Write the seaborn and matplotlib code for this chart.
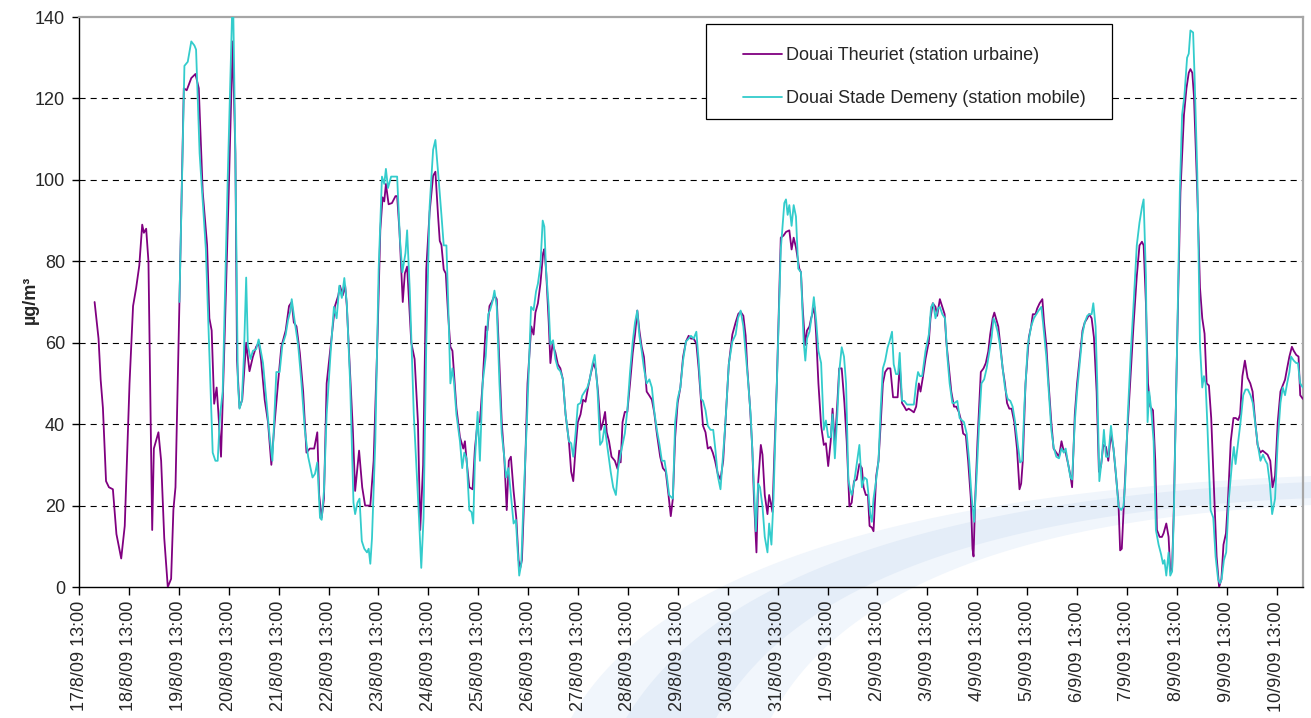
import numpy as np
import pandas as pd
import matplotlib
matplotlib.use("Agg")
import matplotlib.pyplot as plt
from matplotlib.patches import Rectangle, Polygon
from matplotlib.lines import Line2D
import seaborn as sns

# ---------------- data (hours after 17/8/09 13:00, µg/m3) ----------------
theuriet_hours = [7.5, 9.4, 10.4, 11.5, 13, 14.4, 16.3, 18, 20.3, 22, 24.3, 26, 27.5, 29, 30.4, 31.2, 32.3, 33.4, 35.2, 36,
    38.2, 39.5, 41, 42.7, 44.3, 45.4, 46.4, 48.3, 50.4, 51.8, 54, 56, 57.6, 59.5, 61.6, 62.7, 63.8, 65, 66.2, 67,
    68.3, 69.9, 72, 73.9, 75.2, 76, 77.2, 78.5, 80.4, 82, 83.6, 85.2, 86.5, 87.6, 89.3, 90.9, 92.5, 94.1, 95.7, 97.3,
    99.4, 101, 102.3, 103.3, 104.6, 106.2, 107.8, 109.4, 111, 113.1, 114.6, 115.5, 116.7, 117.8, 119.1, 121, 123.1, 124.7, 125.5, 126.8,
    128, 128.8, 130.1, 131.7, 132.8, 134.7, 136.2, 137.6, 140.1, 141.7, 143.6, 144.9, 146, 146.8, 147.6, 148.9, 150.5, 152.2, 153, 154.1,
    155.7, 156.7, 157.8, 159.8, 161.4, 163, 164.1, 165.5, 167, 168.6, 170.3, 171.4, 172.7, 173.5, 174.3, 175.4, 176.4, 177.5, 178.6, 179.6,
    180.4, 181.5, 183.2, 184.8, 185.6, 186.4, 187.7, 189.3, 190.4, 191.7, 192.8, 194.1, 195.6, 196.4, 197.4, 198.5, 199.8, 200.9, 201.7, 203.3,
    204.6, 205.7, 206.7, 207.7, 209, 210.3, 211.4, 212.2, 213, 214.1, 215.7, 217.5, 218.6, 219.5, 220.7, 221.9, 223.2, 223.8, 224.6, 225.9,
    226.7, 227.7, 229.1, 230.3, 231.5, 232.7, 234, 235.6, 236.7, 237.7, 238.8, 239.9, 241.2, 242.4, 243.6, 244.8, 246.1, 247.4, 248.5, 249.6,
    250.9, 252, 253, 253.8, 254.9, 256.1, 257.7, 259, 259.8, 260.5, 261.4, 262.5, 263.7, 265, 266.3, 267.4, 268.5, 269.5, 270.6, 271.7,
    273, 274.3, 275.5, 276.6, 277.9, 279.5, 280.8, 282.2, 283.5, 284.6, 285.6, 286.7, 287.9, 289.2, 290.5, 291.9, 293.2, 294.3, 295.6, 296.9,
    298, 299.2, 300.1, 301.3, 302.4, 303.7, 304.8, 305.9, 307.2, 308.5, 309.8, 310.9, 312.5, 314.2, 315.8, 317.1, 318.2, 319.5, 320.6, 321.4,
    322.7, 323.8, 324.6, 325.8, 326.6, 327.9, 328.7, 329.8, 331.1, 331.9, 332.7, 333.5, 334.3, 335.6, 337.5, 338.8, 340, 341.6, 342.7, 343.7,
    344.8, 346.4, 347.2, 348, 349.2, 350.1, 351.3, 352.1, 353.7, 354.5, 355.6, 356.9, 358.2, 359.2, 360.3, 361.5, 362.4, 363.5, 364.7, 365.6,
    366.8, 368.1, 369.2, 370.5, 371.6, 372.7, 374, 375.3, 376.5, 377.3, 378.4, 379.4, 380.2, 381.3, 382.1, 383.4, 384.5, 385.6, 386.6, 387.7,
    388.9, 390.2, 391.5, 392.6, 393.7, 394.7, 395.8, 396.9, 397.9, 399, 400.2, 401.5, 402.6, 403.9, 404.7, 405.8, 407.1, 408.7, 409.5, 410.6,
    411.9, 412.7, 414, 415.2, 416.3, 417.1, 418.4, 419.5, 420.8, 421.9, 423.2, 424.4, 425.2, 426.5, 427.6, 428.9, 429.7, 430.2, 431, 432.1,
    433.7, 435, 436.1, 437.3, 438.2, 439.4, 440.2, 441, 442.1, 443.1, 444.2, 445.3, 446.3, 447.4, 448.5, 449.8, 451.1, 452.3, 453.1, 453.9,
    455.2, 456.8, 457.9, 458.7, 460, 460.8, 462, 463.3, 464.1, 465.2, 466.3, 467.6, 468.7, 470, 471.3, 472.5, 473.3, 474.5, 475.7, 476.8,
    477.6, 478.9, 480, 481.3, 482.6, 483.7, 484.9, 485.8, 487, 488.1, 489.4, 490.5, 491.5, 492.6, 493.9, 495, 496.3, 497.5, 498.7, 499.9,
    500.7, 501.5, 502.6, 503.9, 505.5, 507.1, 508.7, 510, 511.2, 512, 513.1, 514.1, 515.2, 516.5, 517.6, 518.4, 519.7, 520.8, 521.6, 522.9,
    524, 524.8, 525.7, 526.5, 528.1, 529.7, 531.4, 532.6, 533.7, 534.5, 535.4, 536.2, 537.8, 539.1, 540.2, 541.3, 542.3, 543.4, 544.5, 545.8,
    547.1, 548.3, 549.4, 550.4, 551.6, 552.6, 553.9, 555.2, 556.3, 557.5, 558.4, 559.5, 560.7, 562, 563.3, 564.4, 565.5, 566.8, 568.1, 569.2,
    570.4, 571.6, 572.9, 574, 575.2, 576.5, 577.8, 578.9, 580, 581, 582.1, 583.3, 584.2, 585.4, 586.5, 587.3, 588.6]
theuriet_values = [70, 61, 51, 44, 26, 24.5, 24, 13, 7, 15, 50, 69, 73.5, 79, 89, 87, 88, 80, 14, 34,
    38, 31, 12, 0, 2, 19, 24.5, 70, 122.5, 122, 125, 126, 122.5, 97, 84, 66, 63, 45, 49, 43,
    32, 59, 97, 134, 106.5, 55.6, 44, 46, 60, 53, 56.5, 59, 60, 55.6, 46, 40.5, 30, 40.5, 50, 59,
    63, 69, 70, 65, 64, 57.5, 48, 33, 34, 34, 38, 22.6, 17, 21.7, 50, 59, 69, 71.6, 74, 71.6,
    74, 69, 55.6, 38.6, 23.6, 33.5, 24.5, 20, 20, 31, 62, 87.6, 95.7, 94.7, 99, 94, 94.3, 96, 96, 87.6,
    70, 77, 78.7, 60, 56, 40.5, 14, 30, 78, 92, 101, 102, 91, 85, 84, 78, 77, 67, 59, 58,
    52, 44, 36.8, 34, 35.8, 31, 24.5, 24, 34, 40.5, 40.5, 50, 64, 63, 69, 70, 71.6, 70.7, 61, 40.5,
    31, 18.9, 31, 32, 23.6, 17, 6.6, 4.7, 6.6, 21.7, 50, 64, 62, 67.4, 69.7, 74.5, 82, 83, 78, 65,
    55, 59.6, 57.6, 54.7, 53.7, 51, 42.4, 35.8, 28.3, 26, 34, 40.5, 42.4, 46, 45.5, 49, 52.3, 55, 53.5, 48,
    38.6, 40.5, 43, 38, 35.8, 32, 31, 29, 33.5, 30.6, 40.5, 43, 43, 50, 57.5, 62, 67.9, 63, 59, 56.5,
    48, 47, 46, 43, 37.7, 32, 29.2, 28.3, 22.6, 17.4, 21.7, 36.8, 45.2, 49, 56.5, 60.3, 61.7, 61, 61, 59.8,
    53.7, 45.2, 39.6, 38, 34, 34.4, 33, 31, 27.8, 26.4, 31, 40.5, 54.7, 62, 65, 67.1, 67.6, 66.6, 61.7, 53.7,
    44.3, 34, 21.7, 8.5, 25.4, 34.9, 32.5, 22.6, 17.9, 22.6, 20.7, 18.4, 31, 50, 85.8, 86.3, 87.2, 87.6, 82.9, 85.8,
    83.4, 78.2, 77.3, 68.8, 59.4, 63, 64, 66, 68.8, 62, 50, 39.6, 34.9, 35.3, 29.7, 35.8, 43.8, 34.9, 45.2, 53.7,
    53.7, 45.2, 35.8, 19.8, 20.7, 26, 26.4, 30.2, 29.2, 24.5, 22.6, 22.6, 15, 14.6, 13.7, 27.3, 31, 40.5, 50, 52.8,
    53.7, 53.7, 46.6, 46.6, 46.6, 54.7, 45.2, 44.3, 43.4, 43.8, 43.4, 42.9, 44.3, 50, 48, 51.4, 56, 60.3, 66, 69.7,
    68.8, 66.6, 70.7, 68.8, 67, 60.3, 53.7, 48, 44.3, 44.3, 42.9, 40.5, 37.7, 37.2, 31, 21.7, 9.4, 7.5, 21.7, 35.8,
    52.8, 53.7, 55, 57.9, 62, 66, 67.4, 66, 64, 59.4, 53.7, 50, 45.2, 43.8, 43.8, 40.5, 34, 24, 25.4, 31,
    50, 61.3, 64, 67, 67, 68.4, 69.7, 70.7, 65, 59.4, 50, 40.5, 34, 33, 32, 35.8, 34, 33, 30.2, 27.3,
    24.5, 42.4, 50, 56.6, 63, 65, 66, 67, 66, 61.3, 48, 28.3, 29.7, 34.9, 34.4, 31, 37.7, 34, 27.3, 20.7,
    9, 9.4, 21.7, 35.8, 50, 64, 76.3, 83.9, 84.8, 83.9, 69.7, 50, 44.3, 43.4, 31, 14, 12.3, 12.3, 13.2, 15.6,
    12.3, 3.8, 4.7, 18.9, 59.4, 97, 116, 122.5, 126.3, 127.2, 126.3, 120.6, 97, 73.5, 66, 62.2, 50, 49.5, 41.5, 24.5,
    7.5, 0, 1.9, 10.4, 13.2, 21.7, 35.8, 41.5, 41.5, 41, 42.4, 51.8, 55.6, 51.4, 50, 48, 41.5, 34.9, 33, 33.5,
    33, 32.5, 31, 24.5, 27.3, 40.5, 48, 49.5, 50.9, 53.7, 56.6, 59, 58, 57, 56.6, 47.1, 46.2]

demeny_hours = [48.3, 50.7, 52.3, 54, 55.5, 56.3, 58, 61, 62.4, 64.3, 65.6, 66.7, 67.8, 69.1, 71.5, 74, 75.2, 76.4, 77.2, 78.3,
    79.3, 80.4, 81.2, 82.5, 83.6, 85.2, 86.4, 87.6, 88.5, 90.1, 91.7, 93, 94.9, 96.5, 97.8, 99.4, 100.5, 101.7, 102.3, 103.8,
    105.4, 107, 108.6, 110.2, 112.3, 113.5, 114.6, 115.9, 116.7, 117.8, 119.1, 121, 122.6, 123.9, 125.2, 126.4, 127.6, 128.8, 130.4, 132,
    132.8, 133.9, 134.9, 136, 137.2, 138.5, 139.3, 140.1, 140.9, 142.5, 144.1, 145.7, 146.8, 147.6, 148.6, 150.1, 151.4, 153, 154.3, 155.5,
    157, 157.8, 159.1, 161, 162.6, 163.5, 164.6, 165.7, 167, 168.6, 170.3, 171.4, 172.7, 174.3, 175.4, 176.7, 177.5, 178.6, 179.6, 180.4,
    181.5, 183.2, 184.3, 185.3, 186.4, 187.7, 188.8, 189.6, 190.4, 191.7, 192.8, 194.1, 195.6, 196.8, 197.7, 198.8, 199.8, 200.9, 202.2, 203.3,
    204.5, 205.4, 206.5, 207.7, 209, 210.1, 210.9, 211.7, 212.7, 213.8, 215.4, 217.4, 218.6, 219.8, 220.7, 221.9, 223, 223.8, 224.6, 225.9,
    226.7, 228, 229.1, 230.3, 231.5, 232.7, 234, 235.6, 236.7, 237.7, 238.8, 239.9, 241.2, 242, 243.2, 244.5, 245.6, 246.9, 248, 249.3,
    250.6, 251.7, 252.8, 254.1, 255.7, 256.9, 258.2, 259.3, 260.6, 262.5, 263.7, 265, 266.3, 267.4, 268.5, 269.5, 270.6, 271.7, 273, 274.3,
    275.5, 276.6, 277.9, 279.2, 280.3, 281.6, 282.7, 283.8, 285.6, 286.7, 287.9, 289.2, 290.5, 291.9, 293.2, 294.3, 295.6, 296.9, 298, 299.2,
    300.1, 301.3, 302.4, 303.7, 305, 306.1, 307.2, 308.5, 309.8, 310.9, 312.5, 314.2, 315.8, 316.9, 318.2, 319.5, 320.6, 321.7, 323, 324.3,
    325.5, 326.6, 327.5, 328.7, 329.8, 331.1, 331.9, 333, 334, 335.6, 337.5, 339.2, 340, 340.8, 341.6, 342.7, 343.7, 344.8, 345.9, 347.2,
    348.5, 349.3, 350.1, 351.3, 352.4, 353.4, 354.5, 355.6, 356.9, 358.2, 359.2, 360.3, 361.5, 362.4, 363.5, 364.7, 365.6, 366.8, 367.9, 368.9,
    370, 370.8, 371.6, 372.7, 374, 375.3, 376.5, 377.7, 378.9, 379.7, 380.5, 381.3, 382.1, 383.4, 384.5, 385.6, 386.6, 387.7, 388.9, 389.8,
    391, 391.8, 392.9, 393.9, 394.7, 395.8, 396.9, 398.2, 399.5, 401.5, 402.6, 403.5, 404.4, 405.5, 407.1, 408.7, 409.8, 410.8, 411.9, 413.1,
    414, 415.2, 416.5, 417.6, 418.7, 420, 421.1, 422.4, 423.5, 424.5, 425.6, 426.9, 428.1, 429.2, 430.5, 431.6, 432.9, 434, 435.3, 436.5,
    437.7, 438.9, 439.8, 440.6, 441.8, 442.9, 444.2, 445.3, 446.6, 447.9, 449, 450.2, 451.5, 452.6, 453.6, 454.7, 456.3, 457.9, 459.2, 460.4,
    461.5, 462.8, 463.6, 465.2, 466.5, 467.6, 468.7, 470, 471.3, 472.5, 473.6, 474.5, 475.7, 476.8, 477.6, 478.9, 480, 481.3, 482.6, 483.7,
    484.9, 485.8, 487, 487.8, 488.9, 489.7, 490.7, 491.8, 492.9, 493.9, 495, 496.3, 497.5, 498.6, 499.9, 501.2, 502.3, 503.1, 504.4, 505.8,
    507.1, 508.7, 510, 511.2, 512, 513.1, 513.9, 514.7, 515.5, 516.8, 517.9, 519.2, 520.4, 521.3, 522, 522.9, 524, 524.8, 525.7, 526.5,
    528.1, 529.4, 530.5, 531.6, 532.9, 533.7, 534.5, 535.8, 536.5, 537.8, 539.1, 540.2, 541, 541.8, 542.6, 544.2, 545.5, 546.6, 547.8, 548.7,
    549.5, 550.6, 551.7, 553, 554.6, 555.4, 556.2, 557.3, 558.6, 559.9, 561, 562.1, 563.4, 564.5, 565.8, 566.9, 568.2, 569.4, 570.6, 571.5,
    572.7, 573.8, 575.2, 576.5, 577.8, 578.9, 580, 581, 582.1, 582.9, 584.2, 585.4, 586.2, 587.3, 588.6]
demeny_values = [70, 128, 129, 134, 133, 132, 106.5, 83, 62, 33, 31, 31, 42, 48, 100, 148, 106.5, 50, 43.8, 45.7,
    56.6, 76, 59.4, 56, 58, 58.4, 60.8, 57.5, 55, 46, 36.8, 31, 52.8, 52.8, 59.4, 62, 65.5, 67.9, 70.7, 65,
    59.4, 50, 38.6, 32, 26.9, 27.8, 30.6, 17, 16.5, 23.6, 42.4, 57.5, 68.8, 66, 74, 71, 75.9, 69.7, 50, 20.7,
    17.9, 20.7, 21.7, 11.3, 9.4, 8.5, 9.4, 5.7, 12, 35.8, 78, 100.8, 99, 102.7, 98, 100.8, 100.8, 100.8, 85.8, 77.3,
    82, 87.6, 72.6, 42.4, 26.4, 17, 4.7, 17, 59.4, 93.3, 107.4, 109.8, 101.8, 91.4, 83.9, 83.9, 70.7, 50, 53.7, 50,
    42.4, 35.8, 29.2, 33, 31.6, 18.9, 18.4, 15.6, 31, 43, 31, 50, 56.6, 67, 68, 70, 72.8, 68.8, 50, 37.7,
    32, 26.9, 29.2, 22.6, 15.6, 16.5, 9.4, 2.8, 5.7, 21.7, 40.5, 68.8, 68, 72.6, 74.5, 79, 90, 88.5, 78, 68.8,
    59.6, 60.6, 56, 53.7, 53, 51, 42.4, 35.8, 35.3, 32, 37.7, 44.8, 45.2, 47, 48, 49, 51, 54.7, 57, 49,
    34.9, 35.8, 39.6, 34.4, 28.3, 24.5, 22.6, 29.2, 33, 37.7, 43.4, 52.8, 60.3, 65, 67.9, 61.7, 58, 53.7, 50, 51,
    49, 43.4, 38.6, 34.9, 31, 31, 27.3, 22.6, 21.7, 40.5, 46.2, 49, 55.6, 60.3, 61, 61.7, 61, 62.7, 55.6, 46.2,
    45.7, 43.4, 39.6, 38.6, 38.6, 33.5, 27.3, 24, 33, 40.5, 54.7, 60.3, 62, 66, 67.9, 64, 57.5, 51, 42.4, 28.3,
    13.7, 25.4, 24.5, 19.8, 12.3, 8.5, 15.6, 10.4, 21.7, 50, 82.9, 94.3, 95.2, 91.4, 93.8, 88.7, 93.8, 91, 78.2, 77.3,
    60.3, 55.6, 61, 62.7, 66.6, 71.2, 65.5, 58, 55, 38.6, 40.9, 36.8, 36.8, 42.4, 31.6, 42.4, 52.8, 58.9, 56.6, 50,
    26.4, 24, 22.6, 25.4, 30.2, 34.9, 24.5, 26.9, 26.4, 22.6, 17.9, 16, 21.7, 26.4, 31, 44.3, 53.7, 55.6, 58.9, 60.3,
    62.7, 54.7, 52.3, 52.3, 57.5, 45.7, 45.7, 44.8, 44.8, 44.8, 50, 52.8, 51.8, 51.8, 58, 62, 68.8, 69.7, 66, 68.4,
    68.8, 67, 66, 56.6, 50, 45.2, 45.2, 45.7, 41.5, 41, 40.5, 37.7, 31, 22.6, 16, 26.4, 40.5, 50, 51, 53.7,
    57.5, 61.3, 66, 65, 62.7, 59.4, 53.7, 49, 46.2, 45.7, 44.3, 40.5, 34.9, 30.6, 31, 45.2, 59.4, 64, 66, 67,
    67.9, 68.8, 65, 56.6, 47.1, 38.6, 34.4, 32, 31.6, 34, 33, 34, 30.2, 26.9, 26.4, 40.5, 48, 55, 62.2, 65,
    66.6, 67, 67, 69.7, 64, 50, 26, 31, 38.6, 32, 32, 39.6, 34, 28.3, 19.8, 18.9, 19.8, 25.4, 42.4, 57.5,
    68.8, 83.9, 89.5, 93.3, 95.2, 76.3, 40.5, 48, 44.3, 35.8, 14, 10.4, 8, 5.7, 6.6, 2.8, 8.5, 2.8, 3.8, 17,
    59.4, 97, 116, 120.6, 130, 131, 136.7, 136.2, 125.4, 101.8, 59.4, 49, 51.8, 50, 40.5, 18.9, 17, 7.5, 1.9, 0.9,
    1.9, 6.6, 8.5, 21.7, 31, 34.4, 30.2, 34.9, 40.5, 47.1, 48.5, 48.5, 47.1, 45.2, 39.6, 34.9, 31, 32.5, 31, 30.2,
    25.4, 17.9, 21.7, 35.8, 45.2, 49, 47.1, 50, 52.8, 56.6, 55.6, 55, 55, 50, 49]

tick_hours = list(range(0, 577, 24))
tick_labels = ["17/8/09 13:00", "18/8/09 13:00", "19/8/09 13:00", "20/8/09 13:00", "21/8/09 13:00",
               "22/8/09 13:00", "23/8/09 13:00", "24/8/09 13:00", "25/8/09 13:00", "26/8/09 13:00",
               "27/8/09 13:00", "28/8/09 13:00", "29/8/09 13:00", "30/8/09 13:00", "31/8/09 13:00",
               "1/9/09 13:00", "2/9/09 13:00", "3/9/09 13:00", "4/9/09 13:00", "5/9/09 13:00",
               "6/9/09 13:00", "7/9/09 13:00", "8/9/09 13:00", "9/9/09 13:00", "10/9/09 13:00"]
series_names = ["Douai Theuriet (station urbaine)", "Douai Stade Demeny (station mobile)"]
series_colors = ["#800080", "#33CCCC"]

# ---------------- style ----------------
sns.set_theme(style="white")
plt.rcParams["font.family"] = ["Liberation Sans", "DejaVu Sans"]
plt.rcParams["font.size"] = 13

W, H = 1311, 718
fig = plt.figure(figsize=(W / 100, H / 100), dpi=100)
fig.patch.set_facecolor("white")

def px(x, y):
    return (x / W, 1 - y / H)

# faint background swoosh (logo watermark)
def bez(p0, p1, p2, n=60):
    t = np.linspace(0, 1, n)[:, None]
    return (1 - t) ** 2 * np.array(p0) + 2 * (1 - t) * t * np.array(p1) + t ** 2 * np.array(p2)

def band(outer, inner, color):
    a = bez(*outer)
    b = bez(*inner)[::-1]
    pts = np.vstack([a, b])
    pts = np.array([px(x, y) for x, y in pts])
    fig.patches.append(Polygon(pts, closed=True, transform=fig.transFigure,
                               facecolor=color, edgecolor="none", zorder=-5))

band(((570, 720), (690, 500), (1312, 476)), ((770, 720), (870, 525), (1312, 505)), "#f1f6fc")
band(((625, 720), (750, 505), (1312, 482)), ((715, 720), (825, 518), (1312, 498)), "#e4edf8")

ax = fig.add_axes([79 / W, 1 - 587 / H, (1302.7 - 79) / W, (587 - 17) / H])
ax.set_facecolor("none")

df1 = pd.DataFrame({"h": theuriet_hours, "v": theuriet_values})
df2 = pd.DataFrame({"h": demeny_hours, "v": demeny_values})
sns.lineplot(data=df1, x="h", y="v", ax=ax, color=series_colors[0], linewidth=1.3,
             estimator=None, label=series_names[0], zorder=3)
sns.lineplot(data=df2, x="h", y="v", ax=ax, color=series_colors[1], linewidth=1.3,
             estimator=None, label=series_names[1], zorder=3)

ax.set_xlim(0, 588.5)
ax.set_ylim(0, 140)
ax.set_yticks(range(0, 141, 20))
ax.set_xticks(tick_hours)
ax.set_xticklabels(tick_labels, rotation=90, fontsize=13)
ax.tick_params(axis="y", labelsize=13, length=5, width=1, direction="out", pad=5, left=True, color="black")
ax.tick_params(axis="x", length=6, width=1, direction="out", pad=4, bottom=True, color="black")
ax.set_xlabel("")
ax.set_ylabel("")

ax.yaxis.grid(True, color="black", linestyle=(0, (5.5, 4.5)), linewidth=0.8)
ax.xaxis.grid(False)
gl = ax.yaxis.get_gridlines()
gl[0].set_visible(False)
gl[-1].set_visible(False)

for s in ["left", "bottom"]:
    ax.spines[s].set_color("black")
    ax.spines[s].set_linewidth(1.0)
for s in ["top", "right"]:
    ax.spines[s].set_color("#a6a6a6")
    ax.spines[s].set_linewidth(1.6)

fig.text(30 / W, 1 - 300 / H, "µg/m³", rotation=90, ha="center", va="center",
         fontsize=13, fontweight="bold")

# legend
if ax.legend_:
    ax.legend_.remove()
handles = [Line2D([0], [0], color=c, lw=1.3) for c in series_colors]
leg = ax.legend(handles, series_names, loc="upper left", frameon=False,
                bbox_to_anchor=px(734, 38), bbox_transform=fig.transFigure,
                borderpad=0, handlelength=2.15, handletextpad=0.25, labelspacing=1.45,
                fontsize=13)
leg.set_zorder(6)
x0, y0 = px(706, 119)
x1, y1 = px(1111.7, 24.3)
rect = Rectangle((x0, y0), x1 - x0, y1 - y0, transform=fig.transFigure,
                 facecolor="white", edgecolor="black", linewidth=0.9, zorder=5, clip_on=False)
ax.add_artist(rect)

fig.savefig("out.png", dpi=100)
